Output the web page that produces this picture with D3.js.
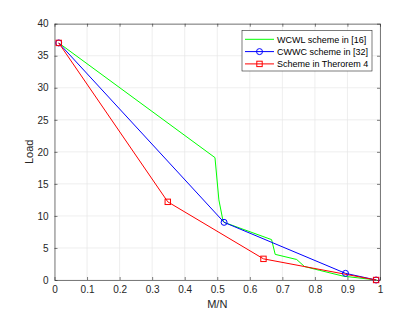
<!DOCTYPE html>
<html><head><meta charset="utf-8">
<script src="https://cdn.jsdelivr.net/npm/d3@7"></script>
<style>body{margin:0;background:#fff}svg{display:block}text{font-family:"Liberation Sans",Arial,sans-serif}</style>
</head><body><svg id="c" width="420" height="315"></svg>
<script>
const xTicks=[0,0.1,0.2,0.3,0.4,0.5,0.6,0.7,0.8,0.9,1];
const xTickLabels=["0","0.1","0.2","0.3","0.4","0.5","0.6","0.7","0.8","0.9","1"];
const yTicks=[0,5,10,15,20,25,30,35,40];
const seriesNames=["WCWL scheme in [16]","CWWC scheme in [32]","Scheme in Therorem 4"];
const wcwlX=[0.013,0.493,0.505,0.517,0.521,0.667,0.678,0.744,0.768,0.815,0.887,0.99];
const wcwlY=[37,19.1,12.5,9.4,9.0,6.3,4.0,3.2,2.1,1.5,0.6,0];
const cwwcX=[0.013,0.521,0.894,0.988];
const cwwcY=[37,9.0,1.04,0];
const thmX=[0.013,0.348,0.642,0.988];
const thmY=[37,12.2,3.3,0];

const L=54.5,R=380,T=23.7,B=280;
const svg=d3.select("#c");
const x=d3.scaleLinear().domain([0,1]).range([L,R]);
const y=d3.scaleLinear().domain([0,40]).range([B,T]);
const g=svg.append("g");
g.selectAll(".gx").data(xTicks).enter().append("line").attr("x1",d=>x(d)).attr("x2",d=>x(d)).attr("y1",T).attr("y2",B).attr("stroke","#e6e6e6").attr("stroke-width",0.7);
g.selectAll(".gy").data(yTicks).enter().append("line").attr("y1",d=>y(d)).attr("y2",d=>y(d)).attr("x1",L).attr("x2",R).attr("stroke","#e6e6e6").attr("stroke-width",0.7);
const ax=d3.axisBottom(x).tickValues(xTicks).tickFormat((d,i)=>xTickLabels[i]).tickSizeInner(-3).tickSizeOuter(0).tickPadding(6);
const ay=d3.axisLeft(y).tickValues(yTicks).tickSizeInner(-3).tickSizeOuter(0).tickPadding(6);
const gx=svg.append("g").attr("transform",`translate(0,${B})`).call(ax);
const gy=svg.append("g").attr("transform",`translate(${L},0)`).call(ay);
const gx2=svg.append("g").attr("transform",`translate(0,${T})`).call(d3.axisTop(x).tickValues(xTicks).tickFormat("").tickSizeInner(-3).tickSizeOuter(0));
const gy2=svg.append("g").attr("transform",`translate(${R},0)`).call(d3.axisRight(y).tickValues(yTicks).tickFormat("").tickSizeInner(-3).tickSizeOuter(0));
[gx,gy,gx2,gy2].forEach(a=>{a.select(".domain").attr("stroke","#262626").attr("stroke-width",0.6);a.selectAll(".tick line").attr("stroke","#262626").attr("stroke-width",0.6);a.selectAll("text").attr("fill","#262626").attr("font-size",10).attr("font-family","Liberation Sans, Arial, sans-serif");});
svg.append("text").attr("x",(L+R)/2).attr("y",308).attr("text-anchor","middle").attr("font-size",11).attr("fill","#262626").text("M/N");
svg.append("text").attr("transform",`translate(33,${(T+B)/2}) rotate(-90)`).attr("text-anchor","middle").attr("font-size",11).attr("fill","#262626").text("Load");
const line=d3.line().x(d=>x(d[0])).y(d=>y(d[1]));
const z=(a,b)=>a.map((v,i)=>[v,b[i]]);
const cols=["#00ff00","#0000ff","#ff0000"];
svg.append("path").datum(z(wcwlX,wcwlY)).attr("d",line).attr("fill","none").attr("stroke",cols[0]).attr("stroke-width",1);
svg.append("path").datum(z(cwwcX,cwwcY)).attr("d",line).attr("fill","none").attr("stroke",cols[1]).attr("stroke-width",1);
svg.append("path").datum(z(thmX,thmY)).attr("d",line).attr("fill","none").attr("stroke",cols[2]).attr("stroke-width",1);
svg.selectAll(".c").data(z(cwwcX,cwwcY)).enter().append("circle").attr("cx",d=>x(d[0])).attr("cy",d=>y(d[1])).attr("r",3).attr("fill","none").attr("stroke",cols[1]).attr("stroke-width",1);
svg.selectAll(".s").data(z(thmX,thmY)).enter().append("rect").attr("x",d=>x(d[0])-2.7).attr("y",d=>y(d[1])-2.7).attr("width",5.4).attr("height",5.4).attr("fill","none").attr("stroke",cols[2]).attr("stroke-width",1);
const lx=242,ly=30.5,lw=130,lh=40.5;
svg.append("rect").attr("x",lx).attr("y",ly).attr("width",lw).attr("height",lh).attr("fill","#fff").attr("stroke","#262626").attr("stroke-width",0.6);
seriesNames.forEach((n,i)=>{
  const yy=ly+8.8+i*12.3;
  svg.append("line").attr("x1",lx+3).attr("x2",lx+32).attr("y1",yy).attr("y2",yy).attr("stroke",cols[i]).attr("stroke-width",1);
  if(i==1) svg.append("circle").attr("cx",lx+17.5).attr("cy",yy).attr("r",3).attr("fill","none").attr("stroke",cols[i]);
  if(i==2) svg.append("rect").attr("x",lx+14.8).attr("y",yy-2.7).attr("width",5.4).attr("height",5.4).attr("fill","none").attr("stroke",cols[i]);
  svg.append("text").attr("x",lx+35).attr("y",yy+3.3).attr("font-size",9).attr("fill","#000").text(n);
});
</script></body></html>
